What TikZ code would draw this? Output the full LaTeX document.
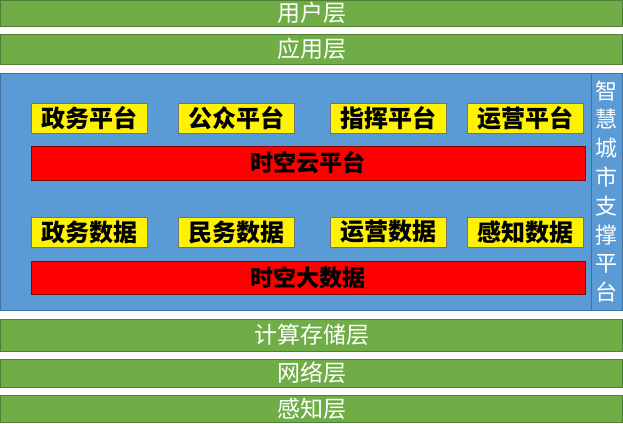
\documentclass[tikz,border=0pt]{standalone}
\usepackage{fontspec}
\setmainfont{Noto Sans CJK SC}
\usetikzlibrary{positioning}
\definecolor{layergreen}{HTML}{70AD47}
\definecolor{layerline}{HTML}{507E32}
\definecolor{platblue}{HTML}{5B9BD5}
\definecolor{platline}{HTML}{41719C}
\begin{document}
\begin{tikzpicture}[x=1pt,y=-1pt,
    every node/.style={outer sep=0pt,inner sep=0pt,line width=1pt},
    layer/.style={rectangle,fill=layergreen,draw=layerline,minimum width=622pt,
        text=white,font=\fontsize{23}{23}\selectfont,node distance=8pt},
    module/.style={rectangle,fill=yellow,draw=black!55,minimum width=116pt,
        minimum height=30pt,font=\fontsize{24}{24}\selectfont\bfseries},
    core/.style={rectangle,fill=red,draw=red!55!black,minimum width=554pt,
        font=\fontsize{23}{23}\selectfont\bfseries}]
    \useasboundingbox (0,0) rectangle (623,423);
    % upper layers
    \node[layer,minimum height=26pt] (user) at (311.5,13) {用户层};
    \node[layer,minimum height=30pt,below=of user] (app) {应用层};
    % support platform
    \node[rectangle,fill=platblue,draw=platline,minimum width=590.5pt,minimum height=237pt,
        below right=9pt and 0pt of app.south west] (plat) {};
    \node[rectangle,fill=platblue,draw=platline,minimum width=31.5pt,minimum height=237pt,
        right=0pt of plat,text=white,align=center,
        font=\fontsize{22}{28.8}\selectfont] (side) {智\\慧\\城\\市\\支\\撑\\平\\台};
    \node[module] (zwpt) at (89,118) {政务平台};
    \node[module,right=31pt of zwpt] (gzpt) {公众平台};
    \node[module,right=36pt of gzpt] (zhpt) {指挥平台};
    \node[module,right=21pt of zhpt] (yypt) {运营平台};
    \node[core,minimum height=34pt,below right=13pt and 0pt of zwpt.south west] (yun) {时空云平台};
    \node[module,below right=37pt and 0pt of yun.south west] (zwsj) {政务数据};
    \node[module,right=31pt of zwsj] (mwsj) {民务数据};
    \node[module,right=36pt of mwsj] (yysj) {运营数据};
    \node[module,right=21pt of yysj] (gzsj) {感知数据};
    \node[core,minimum height=33pt,below right=14pt and 0pt of zwsj.south west] (dsj) {时空大数据};
    % lower layers
    \node[layer,minimum height=32pt,below=9pt of plat.south west,anchor=north west] (calc) {计算存储层};
    \node[layer,minimum height=28pt,below=of calc] (net) {网络层};
    \node[layer,minimum height=27pt,below=of net] (sense) {感知层};
\end{tikzpicture}
\end{document}
